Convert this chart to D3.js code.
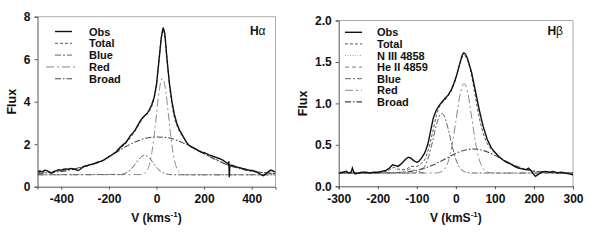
<!DOCTYPE html>
<html>
<head>
<meta charset="utf-8">
<script src="https://cdn.jsdelivr.net/npm/d3@7"></script>
<style>
  html, body { margin: 0; padding: 0; background: #fff; }
  svg { display: block; }
  text { font-family: "Liberation Sans", Arial, sans-serif; fill: #111; }
</style>
</head>
<body>
<div id="chart"></div>
<script>
// --------------- Data (H-alpha panel) ---------------
const haObs = [
  [-500, 0.72], [-490, 0.74], [-480, 0.70], [-470, 0.78], [-460, 0.76], [-450, 0.68],
  [-440, 0.64], [-430, 0.72], [-420, 0.76], [-410, 0.80], [-400, 0.78], [-390, 0.82],
  [-380, 0.84], [-370, 0.82], [-360, 0.86], [-350, 0.84], [-340, 0.80], [-330, 0.76],
  [-320, 0.82], [-310, 0.92], [-300, 0.98], [-290, 1.00], [-280, 1.04], [-270, 1.06],
  [-260, 1.10], [-250, 1.14], [-240, 1.18], [-230, 1.20], [-220, 1.26], [-210, 1.34],
  [-200, 1.42], [-190, 1.48], [-180, 1.56], [-170, 1.63], [-160, 1.76], [-150, 1.88],
  [-140, 1.98], [-130, 2.06], [-120, 2.22], [-110, 2.40], [-100, 2.52], [-90, 2.66],
  [-80, 2.86], [-70, 3.06], [-60, 3.22], [-50, 3.34], [-40, 3.44], [-30, 3.62],
  [-20, 3.86], [-10, 4.20], [0, 4.80], [10, 5.90], [20, 7.00], [28, 7.49], [35, 7.20],
  [45, 5.90], [55, 4.80], [65, 4.00], [75, 3.40], [85, 3.00], [95, 2.70], [110, 2.40],
  [120, 2.20], [130, 2.02], [140, 1.92], [150, 1.86], [160, 1.80], [170, 1.74],
  [180, 1.68], [190, 1.63], [200, 1.60], [210, 1.56], [220, 1.50], [230, 1.46],
  [240, 1.42], [250, 1.38], [260, 1.34], [270, 1.30], [280, 1.24], [290, 1.16],
  [300, 1.08], [304, 1.18], [306, 0.45], [308, 1.02], [320, 1.00], [330, 0.96],
  [340, 0.92], [350, 0.90], [360, 0.86], [370, 0.84], [380, 0.80], [390, 0.78],
  [400, 0.76], [410, 0.74], [420, 0.70], [430, 0.64], [440, 0.56], [450, 0.52],
  [460, 0.62], [470, 0.70], [480, 0.78], [490, 0.74], [500, 0.68]
];
const haTotal = [
  [-500, 0.66], [-400, 0.76], [-300, 0.96], [-250, 1.12], [-200, 1.40], [-150, 1.82],
  [-120, 2.15], [-100, 2.45], [-80, 2.80], [-60, 3.18], [-40, 3.42], [-20, 3.78],
  [-10, 4.15], [0, 4.80], [10, 5.90], [20, 7.00], [27, 7.40], [35, 7.10], [45, 5.85],
  [55, 4.70], [65, 3.85], [75, 3.25], [90, 2.75], [110, 2.36], [130, 2.05], [150, 1.85],
  [200, 1.55], [250, 1.28], [300, 1.02], [350, 0.86], [400, 0.74], [450, 0.66], [500, 0.62]
];
const haBlue = [
  [-500, 0.56], [-150, 0.58], [-130, 0.64], [-110, 0.79], [-90, 1.06], [-70, 1.35],
  [-50, 1.48], [-30, 1.35], [-10, 1.06], [10, 0.79], [30, 0.64], [50, 0.58], [70, 0.56],
  [500, 0.56]
];
const haRed = [
  [-500, 0.56], [-60, 0.57], [-50, 0.63], [-40, 0.76], [-30, 1.04], [-20, 1.57],
  [-10, 2.39], [0, 3.41], [10, 4.40], [20, 5.01], [25, 5.09], [30, 5.01], [40, 4.40],
  [50, 3.41], [60, 2.39], [70, 1.57], [80, 1.04], [90, 0.76], [100, 0.63], [110, 0.58],
  [120, 0.56], [500, 0.56]
];
const haBroad = [
  [-500, 0.62], [-400, 0.72], [-300, 0.95], [-250, 1.12], [-200, 1.40], [-150, 1.75],
  [-100, 2.05], [-50, 2.27], [0, 2.34], [50, 2.30], [100, 2.12], [150, 1.85],
  [200, 1.55], [250, 1.27], [300, 1.02], [350, 0.85], [400, 0.73], [450, 0.66], [500, 0.62]
];

// --------------- Data (H-beta panel) ---------------
const hbObs = [
  [-300, 0.16], [-290, 0.17], [-280, 0.18], [-275, 0.16], [-268, 0.17], [-265, 0.22],
  [-262, 0.18], [-258, 0.15], [-250, 0.16], [-240, 0.17], [-230, 0.17], [-220, 0.16],
  [-210, 0.17], [-200, 0.17], [-190, 0.18], [-180, 0.19], [-170, 0.22], [-162, 0.26],
  [-155, 0.25], [-148, 0.24], [-140, 0.27], [-130, 0.32], [-122, 0.35], [-115, 0.34],
  [-108, 0.31], [-100, 0.29], [-95, 0.30], [-88, 0.34], [-80, 0.40], [-72, 0.50],
  [-65, 0.66], [-58, 0.82], [-50, 0.92], [-42, 0.98], [-35, 1.02], [-28, 1.06],
  [-20, 1.10], [-12, 1.16], [-5, 1.24], [2, 1.34], [10, 1.48], [16, 1.58], [20, 1.61],
  [24, 1.60], [30, 1.54], [40, 1.38], [50, 1.15], [60, 0.92], [70, 0.72], [80, 0.57],
  [90, 0.47], [100, 0.41], [110, 0.36], [120, 0.32], [130, 0.29], [140, 0.27],
  [150, 0.24], [160, 0.22], [170, 0.21], [180, 0.20], [186, 0.22], [192, 0.19],
  [198, 0.15], [204, 0.12], [210, 0.14], [220, 0.17], [230, 0.18], [240, 0.17],
  [250, 0.18], [260, 0.16], [270, 0.17], [280, 0.16], [290, 0.15], [300, 0.14]
];
const hbTotal = [
  [-300, 0.16], [-200, 0.16], [-170, 0.20], [-160, 0.23], [-150, 0.21], [-130, 0.20],
  [-115, 0.24], [-100, 0.24], [-90, 0.27], [-80, 0.32], [-70, 0.45], [-60, 0.64],
  [-50, 0.85], [-40, 0.98], [-30, 1.03], [-20, 1.09], [-10, 1.17], [0, 1.30],
  [10, 1.47], [20, 1.58], [30, 1.52], [40, 1.34], [50, 1.08], [60, 0.83], [70, 0.64],
  [80, 0.52], [90, 0.45], [100, 0.40], [120, 0.32], [140, 0.27], [160, 0.23],
  [180, 0.20], [200, 0.18], [250, 0.17], [300, 0.16]
];
const hbN3 = [
  [-300, 0.16], [-200, 0.16], [-180, 0.168], [-170, 0.196], [-160, 0.22], [-150, 0.196],
  [-140, 0.168], [-120, 0.16]
];
const hbHe2 = [
  [-160, 0.16], [-140, 0.166], [-130, 0.183], [-115, 0.21], [-100, 0.183], [-90, 0.166],
  [-80, 0.16]
];
const hbBlue = [
  [-300, 0.16], [-110, 0.16], [-100, 0.167], [-90, 0.186], [-80, 0.24], [-70, 0.354],
  [-60, 0.535], [-50, 0.737], [-40, 0.867], [-36, 0.88], [-30, 0.851], [-20, 0.699],
  [-10, 0.495], [0, 0.325], [10, 0.225], [20, 0.181], [30, 0.165], [40, 0.16], [300, 0.16]
];
const hbRed = [
  [-300, 0.16], [-50, 0.16], [-40, 0.17], [-30, 0.202], [-20, 0.292], [-10, 0.485],
  [0, 0.782], [10, 1.089], [21, 1.24], [30, 1.136], [40, 0.848], [50, 0.538], [60, 0.321],
  [70, 0.214], [80, 0.174], [90, 0.163], [100, 0.16], [300, 0.16]
];
const hbBroad = [
  [-300, 0.16], [-200, 0.161], [-150, 0.166], [-100, 0.194], [-80, 0.219], [-60, 0.254],
  [-40, 0.299], [-20, 0.348], [0, 0.396], [20, 0.432], [45, 0.45], [60, 0.443],
  [80, 0.416], [100, 0.373], [120, 0.323], [140, 0.275], [160, 0.235], [180, 0.205],
  [200, 0.185], [250, 0.164], [300, 0.16]
];

// Axis ticks
const haXTicks = [-400, -200, 0, 200, 400];
const haYTicks = [0, 2, 4, 6, 8];
const hbXTicks = [-300, -200, -100, 0, 100, 200, 300];
const hbYTicks = [0, 0.5, 1.0, 1.5, 2.0];

// --------------- Styles ---------------
const STYLES = {
  obs: { stroke: "#111", width: 1.4, dash: null, curve: d3.curveLinear },
  total: { stroke: "#555", width: 1, dash: "3,2", curve: d3.curveMonotoneX },
  n3: { stroke: "#aaa", width: 1, dash: "1,1.5", curve: d3.curveMonotoneX },
  he2: { stroke: "#777", width: 1, dash: "4,3", curve: d3.curveMonotoneX },
  blue: { stroke: "#666", width: 1, dash: "6,2,2,2", curve: d3.curveMonotoneX },
  red: { stroke: "#888", width: 1, dash: "8,3,2,3", curve: d3.curveMonotoneX },
  broad: { stroke: "#444", width: 1.1, dash: "6,2,1.5,2", curve: d3.curveMonotoneX },
};

const svg = d3
  .select("#chart")
  .append("svg")
  .attr("width", 599)
  .attr("height", 252);

svg.append("rect").attr("width", 599).attr("height", 252).attr("fill", "#fff");

function drawPanel(cfg) {
  const x = d3.scaleLinear().domain(cfg.xDomain).range(cfg.xRange);
  const y = d3.scaleLinear().domain(cfg.yDomain).range(cfg.yRange);
  const g = svg.append("g");

  const [x0, x1] = cfg.xRange;
  const [y0, y1] = cfg.yRange;

  // frame: light top/right
  g.append("path")
    .attr("d", `M${x0},${y1}H${x1}V${y0}`)
    .attr("fill", "none")
    .attr("stroke", "#aaa")
    .attr("stroke-width", 1);

  // clip for series
  const clipId = `clip-${cfg.name}`;
  g.append("clipPath")
    .attr("id", clipId)
    .append("rect")
    .attr("x", x0)
    .attr("y", y1)
    .attr("width", x1 - x0)
    .attr("height", y0 - y1);

  const series = g.append("g").attr("clip-path", `url(#${clipId})`);
  // draw components first, obs last
  cfg.series
    .slice()
    .reverse()
    .forEach((s) => {
      const st = STYLES[s.key];
      const line = d3
        .line()
        .x((d) => x(d[0]))
        .y((d) => y(d[1]))
        .curve(st.curve);
      series
        .append("path")
        .datum(s.data)
        .attr("d", line)
        .attr("fill", "none")
        .attr("stroke", st.stroke)
        .attr("stroke-width", st.width)
        .attr("stroke-dasharray", st.dash);
    });

  // axes
  const xAxis = d3
    .axisBottom(x)
    .tickValues(cfg.xTicks)
    .tickSize(3)
    .tickPadding(5)
    .tickFormat((d) => String(d));
  const yAxis = d3
    .axisLeft(y)
    .tickValues(cfg.yTicks)
    .tickSize(3)
    .tickPadding(4)
    .tickFormat(cfg.yFormat);

  const gx = g.append("g").attr("transform", `translate(0,${y0})`).call(xAxis);
  const gy = g.append("g").attr("transform", `translate(${x0},0)`).call(yAxis);
  [gx, gy].forEach((a) => {
    a.select(".domain").attr("stroke", "#555");
    a.selectAll(".tick line").attr("stroke", "#555");
    a.selectAll(".tick text")
      .attr("font-family", '"Liberation Sans", Arial, sans-serif')
      .attr("font-weight", "bold")
      .attr("font-size", 12)
      .attr("fill", "#111");
  });

  // axis titles
  const xt = g
    .append("text")
    .attr("x", (x0 + x1) / 2)
    .attr("y", 222)
    .attr("text-anchor", "middle")
    .attr("font-weight", "bold")
    .attr("font-size", 12);
  xt.append("tspan").text(cfg.xLabel);
  xt.append("tspan").attr("font-size", 8).attr("dy", -5).text("-1");
  xt.append("tspan").attr("dy", 5).text(")");

  g.append("text")
    .attr("transform", `translate(${cfg.yLabelX},${(y0 + y1) / 2}) rotate(-90)`)
    .attr("text-anchor", "middle")
    .attr("font-weight", "bold")
    .attr("font-size", 12.5)
    .text("Flux");

  // line name
  const nm = g
    .append("text")
    .attr("x", x1 - 10)
    .attr("y", 35)
    .attr("text-anchor", "end")
    .attr("font-size", 12);
  nm.append("tspan").attr("font-weight", "bold").text("H");
  nm.append("tspan").text(cfg.greek);

  // legend
  const leg = g.append("g");
  cfg.series.forEach((s, i) => {
    const st = STYLES[s.key];
    const yy = cfg.legendY + i * cfg.legendStep;
    const longer = s.key === "red" && cfg.name === "ha";
    leg.append("line")
      .attr("x1", cfg.legendX0 - (longer ? 9 : 0))
      .attr("x2", cfg.legendX1 + (longer ? 6 : 0))
      .attr("y1", yy)
      .attr("y2", yy)
      .attr("stroke", st.stroke)
      .attr("stroke-width", st.width)
      .attr("stroke-dasharray", st.dash);
    leg.append("text")
      .attr("x", cfg.legendTextX)
      .attr("y", yy + 4)
      .attr("font-weight", "bold")
      .attr("font-size", 11)
      .attr("textLength", null)
      .text(s.label);
  });
}

drawPanel({
  name: "ha",
  xDomain: [-500, 500],
  xRange: [37.5, 275.5],
  yDomain: [0, 8],
  yRange: [186.7, 16.7],
  xTicks: haXTicks,
  yTicks: haYTicks,
  yFormat: d3.format("d"),
  xLabel: "V (kms",
  yLabelX: 16,
  greek: "\u03b1",
  legendX0: 55,
  legendX1: 72,
  legendTextX: 89,
  legendY: 31.5,
  legendStep: 11.8,
  series: [
    { key: "obs", label: "Obs", data: haObs },
    { key: "total", label: "Total", data: haTotal },
    { key: "blue", label: "Blue", data: haBlue },
    { key: "red", label: "Red", data: haRed },
    { key: "broad", label: "Broad", data: haBroad },
  ],
});

drawPanel({
  name: "hb",
  xDomain: [-300, 300],
  xRange: [338.7, 573],
  yDomain: [0, 2],
  yRange: [186.3, 20.5],
  xTicks: hbXTicks,
  yTicks: hbYTicks,
  yFormat: d3.format(".1f"),
  xLabel: "V (kmS",
  yLabelX: 307,
  greek: "\u03b2",
  legendX0: 345,
  legendX1: 362,
  legendTextX: 377,
  legendY: 32.3,
  legendStep: 11.6,
  series: [
    { key: "obs", label: "Obs", data: hbObs },
    { key: "total", label: "Total", data: hbTotal },
    { key: "n3", label: "N III 4858", data: hbN3 },
    { key: "he2", label: "He II 4859", data: hbHe2 },
    { key: "blue", label: "Blue", data: hbBlue },
    { key: "red", label: "Red", data: hbRed },
    { key: "broad", label: "Broad", data: hbBroad },
  ],
});
</script>
</body>
</html>
